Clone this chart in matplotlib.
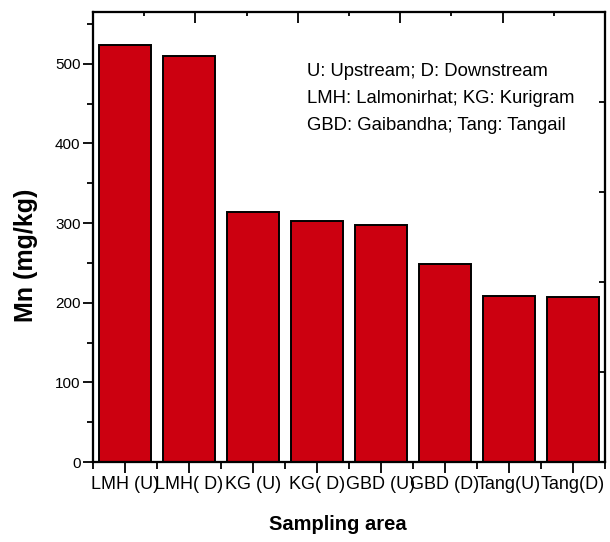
import matplotlib
matplotlib.use("Agg")
import matplotlib.pyplot as plt
import numpy as np

# Mn concentration per sampling site
sites = ["LMH (U)", "LMH( D)", "KG (U)", "KG( D)", "GBD (U)", "GBD (D)", "Tang(U)", "Tang(D)"]
mn_values = [524, 510, 314, 303, 297, 248, 209, 207]
y_ticks = [0, 100, 200, 300, 400, 500]
notes = ["U: Upstream; D: Downstream",
         "LMH: Lalmonirhat; KG: Kurigram",
         "GBD: Gaibandha; Tang: Tangail"]

plt.rcParams["font.family"] = ["Liberation Sans", "DejaVu Sans"]

fig = plt.figure(figsize=(6.10, 5.42), dpi=100)
ax = fig.add_axes([0.1525, 0.1476, 0.8393, 0.8303])

x = np.arange(len(sites))
ax.bar(x, mn_values, width=0.8, color="#cc0010", edgecolor="black", linewidth=1.4, zorder=2)

ax.set_xlim(-0.5, len(sites) - 0.5)
ax.set_ylim(0, 565)

ax.set_xticks(x)
ax.set_xticklabels(sites, fontsize=13)
ax.set_xticks(list(np.append(x - 0.5, x[-1] + 0.5)), minor=True)
ax.set_yticks(y_ticks)
ax.set_yticklabels([str(v) for v in y_ticks], fontsize=11)
ax.set_yticks(np.arange(50, 565, 100), minor=True)

ax.tick_params(axis="x", which="major", direction="out", length=8, width=1.3, pad=2)
ax.tick_params(axis="x", which="minor", direction="out", length=5, width=1.3)
ax.tick_params(axis="y", which="major", direction="out", length=7, width=1.3, pad=2)
ax.tick_params(axis="y", which="minor", direction="out", length=4, width=1.3)

for s in ax.spines.values():
    s.set_linewidth(1.5)

ax.set_ylabel("Mn (mg/kg)", fontsize=18, fontweight="heavy")
ax.yaxis.set_label_coords(-0.108, 0.46)
ax.set_xlabel("Sampling area", fontsize=14.5, fontweight="heavy")
ax.xaxis.set_label_coords(0.478, -0.118)

# top and right frame axes with their own inward ticks
top = ax.twiny()
top.set_xlim(0, 10)
top.set_xticks([2, 4, 6, 8])
top.set_xticks([1, 3, 5, 7, 9], minor=True)
top.tick_params(axis="x", which="major", direction="in", length=8, width=1.3, labeltop=False)
top.tick_params(axis="x", which="minor", direction="in", length=3, width=1.3)

right = ax.twinx()
right.set_ylim(0, 10)
right.set_yticks([2, 4, 6, 8])
right.tick_params(axis="y", which="major", direction="in", length=4, width=1.3, labelright=False)
for a in (top, right):
    for s in a.spines.values():
        s.set_linewidth(1.5)

for i, line in enumerate(notes):
    ax.text(0.418, 0.868 - i * 0.0605, line, transform=ax.transAxes,
            fontsize=13.3, va="center", ha="left")

fig.savefig("out.png", dpi=100)
